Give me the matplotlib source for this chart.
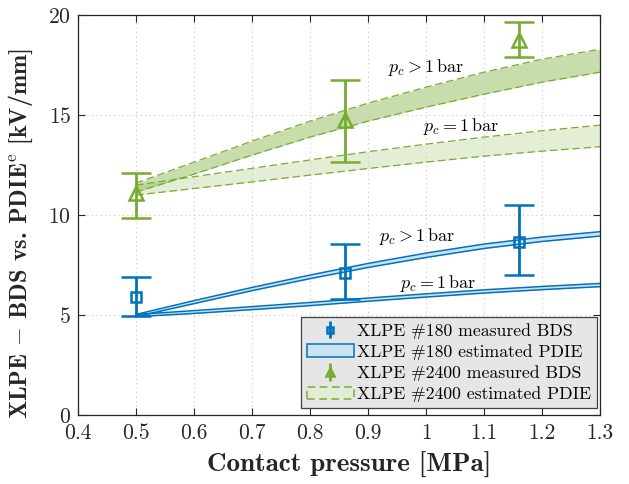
import numpy as np
import matplotlib
matplotlib.use("Agg")
import matplotlib.pyplot as plt
from matplotlib.patches import Patch

plt.rcParams['mathtext.fontset'] = 'cm'
plt.rcParams['font.family'] = ['cmr10']
plt.rcParams['axes.formatter.use_mathtext'] = True
plt.rcParams['axes.unicode_minus'] = False

BLUE = '#0072BD'
GREEN = '#77AC30'
AXC = '#262626'

# measured breakdown strength (points with asymmetric error bars)
p_meas = [0.5, 0.86, 1.16]
bds_180 = [5.9, 7.1, 8.65]
bds_180_lo = [4.95, 5.8, 7.0]
bds_180_hi = [6.9, 8.55, 10.5]
bds_2400 = [11.1, 14.75, 18.75]
bds_2400_lo = [9.85, 12.65, 17.9]
bds_2400_hi = [12.1, 16.75, 19.65]

# estimated PDIE bands
p_band = [0.5, 0.6, 0.7, 0.8, 0.9, 1.0, 1.1, 1.2, 1.3]
pdie_180_gt_hi = [5.03, 5.72, 6.38, 7.0, 7.58, 8.1, 8.55, 8.9, 9.17]
pdie_180_gt_lo = [4.92, 5.57, 6.22, 6.82, 7.38, 7.88, 8.33, 8.68, 8.95]
pdie_180_eq_hi = [5.03, 5.22, 5.42, 5.63, 5.85, 6.06, 6.26, 6.43, 6.58]
pdie_180_eq_lo = [4.92, 5.08, 5.27, 5.47, 5.69, 5.9, 6.1, 6.27, 6.42]
pdie_2400_gt_hi = [11.6, 12.65, 13.7, 14.7, 15.6, 16.4, 17.15, 17.8, 18.3]
pdie_2400_gt_lo = [11.15, 12.05, 13.0, 13.9, 14.7, 15.4, 16.05, 16.65, 17.15]
pdie_2400_eq_hi = [11.5, 11.92, 12.34, 12.76, 13.17, 13.55, 13.9, 14.22, 14.5]
pdie_2400_eq_lo = [11.0, 11.33, 11.66, 12.0, 12.33, 12.65, 12.95, 13.2, 13.42]

fig = plt.figure(figsize=(6.29, 4.84), dpi=100)
ax = fig.add_axes([0.124, 0.1426, 0.830, 0.826])

# blue bands
for hi, lo in [(pdie_180_gt_hi, pdie_180_gt_lo), (pdie_180_eq_hi, pdie_180_eq_lo)]:
    ax.fill_between(p_band, lo, hi, color=BLUE, alpha=0.2, lw=0)
    ax.plot(p_band, hi, color=BLUE, lw=1.1)
    ax.plot(p_band, lo, color=BLUE, lw=1.1)

# green bands
for hi, lo, a in [(pdie_2400_gt_hi, pdie_2400_gt_lo, 0.4), (pdie_2400_eq_hi, pdie_2400_eq_lo, 0.2)]:
    ax.fill_between(p_band, lo, hi, color=GREEN, alpha=a, lw=0)
    ax.plot(p_band, hi, color=GREEN, lw=0.9, ls=(0, (6, 3)))
    ax.plot(p_band, lo, color=GREEN, lw=0.9, ls=(0, (6, 3)))

def asym(y, lo, hi):
    y = np.array(y)
    return [y - np.array(lo), np.array(hi) - y]

ax.errorbar(p_meas, bds_180, yerr=asym(bds_180, bds_180_lo, bds_180_hi), fmt='s',
            color=BLUE, mfc='none', ms=7, mew=1.8, elinewidth=2, capsize=10.5, capthick=2)
ax.errorbar(p_meas, bds_2400, yerr=asym(bds_2400, bds_2400_lo, bds_2400_hi), fmt='^',
            color=GREEN, mfc='none', ms=10, mew=1.8, elinewidth=2, capsize=10.5, capthick=2)

# curve labels
ax.text(1.0, 17.4, r'$p_c > 1\,\mathrm{bar}$', fontsize=13, ha='center', va='center')
ax.text(1.06, 14.45, r'$p_c = 1\,\mathrm{bar}$', fontsize=13, ha='center', va='center')
ax.text(0.985, 8.95, r'$p_c > 1\,\mathrm{bar}$', fontsize=13, ha='center', va='center')
ax.text(1.02, 6.6, r'$p_c = 1\,\mathrm{bar}$', fontsize=13, ha='center', va='center')

ax.set_xlim(0.4, 1.3)
ax.set_ylim(0, 20)
ax.set_xticks(np.arange(0.4, 1.31, 0.1))
ax.set_yticks([0, 5, 10, 15, 20])
ax.set_xticklabels(['0.4', '0.5', '0.6', '0.7', '0.8', '0.9', '1', '1.1', '1.2', '1.3'])
ax.grid(True, ls=(0, (1, 3)), color='#c8c8c8', lw=0.8)
ax.tick_params(direction='in', top=True, right=True, length=5, width=0.8,
               labelsize=15.5, colors=AXC)
ax.tick_params(axis='x', pad=6)
ax.tick_params(axis='y', pad=5)
for s in ax.spines.values():
    s.set_color(AXC)
    s.set_linewidth(0.9)

ax.set_xlabel('Contact pressure [MPa]', family='cmb10', fontsize=19.5, color=AXC)
ax.set_ylabel(r'XLPE $-$ BDS vs. PDIE$^{\mathrm{e}}$ [kV/mm]', family='cmb10',
              fontsize=17.5, color=AXC)
ax.xaxis.set_label_coords(0.52, -0.092)
ax.yaxis.set_label_coords(-0.082, 0.455)

h1 = ax.errorbar([], [], yerr=[], fmt='s', color=BLUE, mfc='none', ms=5, mew=1.8,
                 elinewidth=2, capsize=4, capthick=2)
h2 = Patch(facecolor=(0.8, 0.89, 0.95), edgecolor=BLUE, lw=1.1)
h3 = ax.errorbar([], [], yerr=[], fmt='^', color=GREEN, mfc='none', ms=6, mew=1.8,
                 elinewidth=2, capsize=4, capthick=2)
h4 = Patch(facecolor=(0.89, 0.93, 0.84), edgecolor=GREEN, lw=1.1, ls=(0, (5, 3)))
leg = ax.legend([h1, h2, h3, h4],
                ['XLPE #180 measured BDS', 'XLPE #180 estimated PDIE',
                 'XLPE #2400 measured BDS', 'XLPE #2400 estimated PDIE'],
                loc='lower right', bbox_to_anchor=(0.995, 0.017), borderaxespad=0,
                fontsize=12.7, fancybox=False, framealpha=1, facecolor='#e6e6e6',
                edgecolor='#404040', handlelength=2.65, handletextpad=0.2,
                labelspacing=0.3, borderpad=0.35)
leg.get_frame().set_linewidth(0.9)

fig.savefig('out.png', dpi=100)
